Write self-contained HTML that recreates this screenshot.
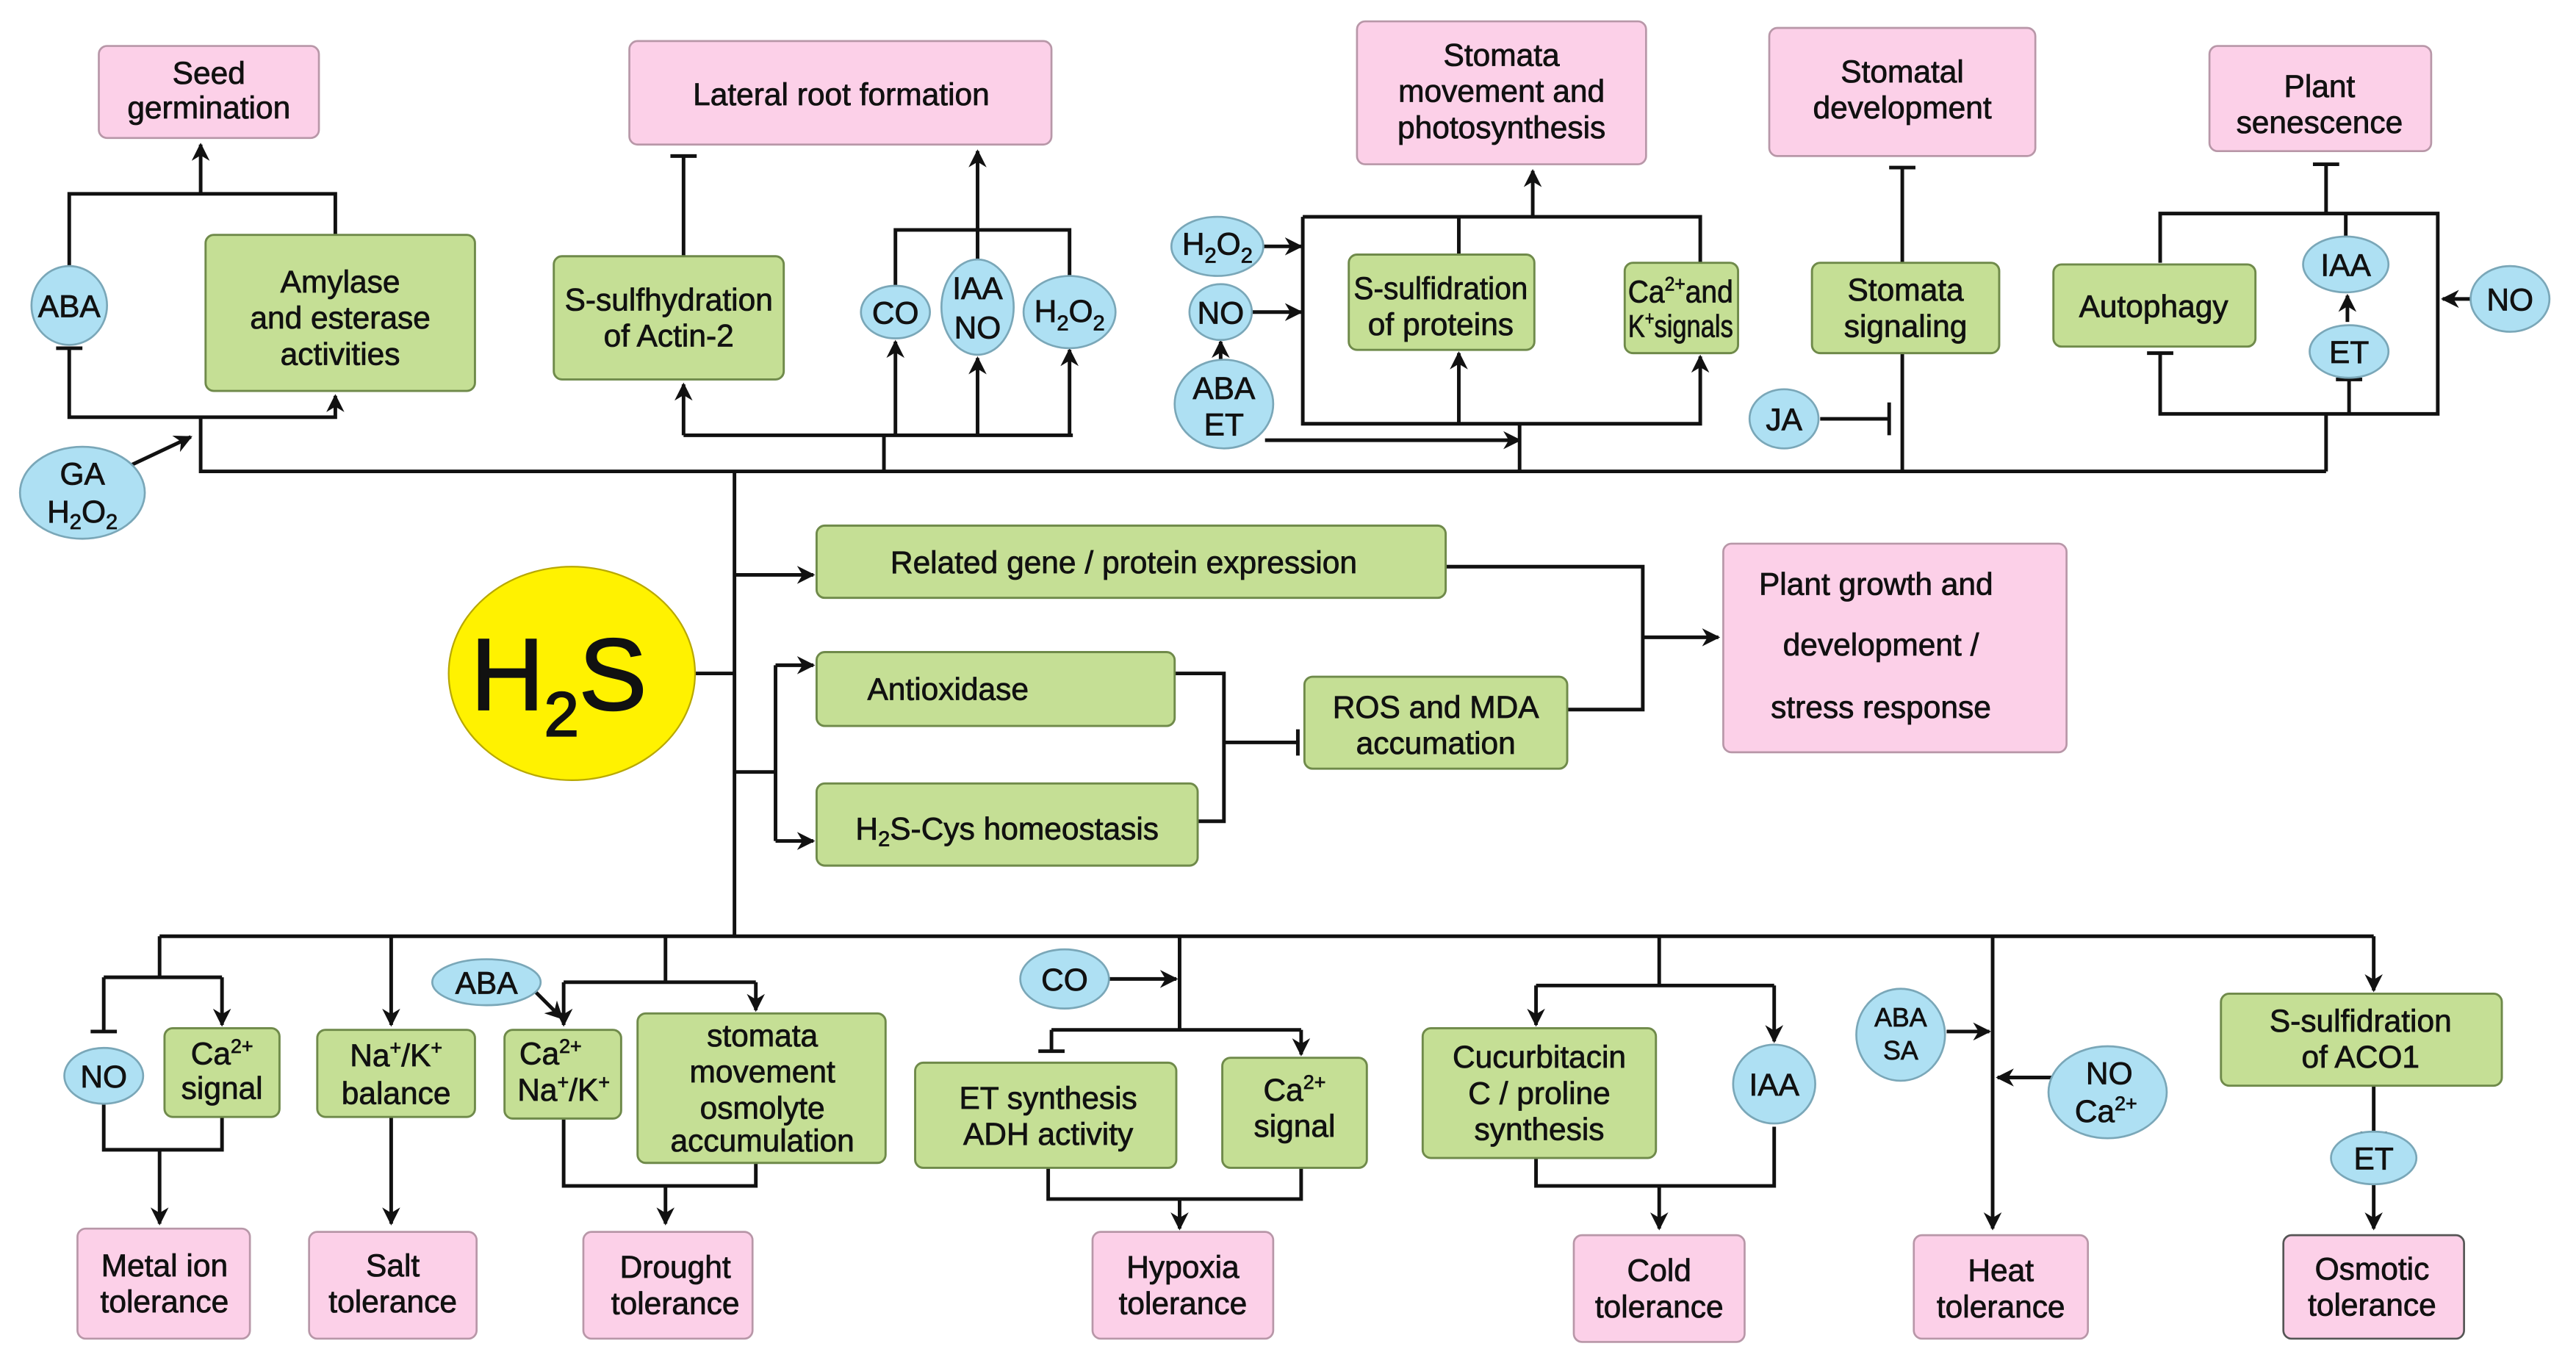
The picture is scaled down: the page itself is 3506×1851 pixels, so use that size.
<!DOCTYPE html>
<html><head><meta charset="utf-8"><style>
html,body{margin:0;padding:0;background:#fff;width:3506px;height:1851px;overflow:hidden}
svg{display:block}
text{font-family:"Liberation Sans",sans-serif;font-size:19px;fill:#111;text-anchor:middle;stroke:#111;stroke-width:0.35}
.p{fill:#fcd0e8;stroke:#b897a8;stroke-width:1.2}
.g{fill:#c5df95;stroke:#6f8a4a;stroke-width:1.3}
.b{fill:#aee0f3;stroke:#7aa7b8;stroke-width:1.2}
.l{fill:none;stroke:#111;stroke-width:2.2}
</style></head><body>
<svg width="3506" height="1851" viewBox="0 0 1568 828" xmlns="http://www.w3.org/2000/svg">
<defs><marker id="a" viewBox="0 0 10 10" refX="9" refY="5" markerWidth="5" markerHeight="5" orient="auto"><path d="M0,0L10,5L0,10L3,5z" fill="#111"/></marker></defs>
<g class="l">
<path d="M122,118V88" marker-end="url(#a)"/>
<path d="M42,163V118H204V143"/>
<path d="M42,212V254H204V241" marker-end="url(#a)"/>
<path d="M34,212H50"/>
<path d="M122,254V287H1416"/>
<path d="M80,283L116,266" marker-end="url(#a)"/>
<path d="M416,156V95M408,95H424"/>
<path d="M416,265V234" marker-end="url(#a)"/>
<path d="M416,265H653M538,265V287"/>
<path d="M545,265V208" marker-end="url(#a)"/>
<path d="M595,265V218" marker-end="url(#a)"/>
<path d="M651,265V213" marker-end="url(#a)"/>
<path d="M545,175V140H651V170"/>
<path d="M595,160V92" marker-end="url(#a)"/>
<path d="M793,132H1035V162M888,132V155M933,132V104" marker-end="url(#a)"/>
<path d="M793,132V258H1035V217" marker-end="url(#a)"/>
<path d="M888,258V215" marker-end="url(#a)"/>
<path d="M925,258V287"/>
<path d="M770,268H925" marker-end="url(#a)"/>
<path d="M767,150H792" marker-end="url(#a)"/>
<path d="M762,190H792" marker-end="url(#a)"/>
<path d="M743,222V208" marker-end="url(#a)"/>
<path d="M1158,160V102M1150,102H1166M1158,215V287"/>
<path d="M1108,255H1150M1150,245V265"/>
<path d="M1315,160V130H1484V252H1315V215M1307,215H1323"/>
<path d="M1416,130V100M1408,100H1424"/>
<path d="M1428,130V145"/>
<path d="M1430,252V231M1422,231H1438"/>
<path d="M1429,196V180" marker-end="url(#a)"/>
<path d="M1505,182H1487" marker-end="url(#a)"/>
<path d="M1416,252V287"/>
<path d="M423,410H447M447,287V570"/>
<path d="M447,350H495" marker-end="url(#a)"/>
<path d="M447,470H472M472,405V512"/>
<path d="M472,405H495" marker-end="url(#a)"/>
<path d="M472,512H495" marker-end="url(#a)"/>
<path d="M715,410H745V500H729M745,452H790M790,444V460"/>
<path d="M880,345H1000V432H954M1000,388H1046" marker-end="url(#a)"/>
<path d="M97,570H1445"/>
<path d="M97,570V595M63,595H135M63,595V628M55,628H71"/>
<path d="M135,595V624" marker-end="url(#a)"/>
<path d="M63,672V700H135V680"/>
<path d="M97,700V745" marker-end="url(#a)"/>
<path d="M238,570V624" marker-end="url(#a)"/>
<path d="M238,680V745" marker-end="url(#a)"/>
<path d="M405,570V598M343,598H460"/>
<path d="M343,598V624" marker-end="url(#a)"/>
<path d="M460,598V615" marker-end="url(#a)"/>
<path d="M320,598L342,620" marker-end="url(#a)"/>
<path d="M343,681V722H460V708"/>
<path d="M405,722V745" marker-end="url(#a)"/>
<path d="M718,570V627M640,627H792M640,627V640M632,640H648"/>
<path d="M792,627V642" marker-end="url(#a)"/>
<path d="M672,596H716" marker-end="url(#a)"/>
<path d="M638,711V730H792V711"/>
<path d="M718,730V748" marker-end="url(#a)"/>
<path d="M1010,570V600M935,600H1080"/>
<path d="M935,600V624" marker-end="url(#a)"/>
<path d="M1080,600V634" marker-end="url(#a)"/>
<path d="M935,705V722H1080V686M1010,722V748" marker-end="url(#a)"/>
<path d="M1213,570V748" marker-end="url(#a)"/>
<path d="M1185,628H1211" marker-end="url(#a)"/>
<path d="M1250,656H1216" marker-end="url(#a)"/>
<path d="M1445,570V603" marker-end="url(#a)"/>
<path d="M1445,661V690M1437,690H1453"/>
<path d="M1445,720V748" marker-end="url(#a)"/>
</g>
<rect class="p" x="60" y="28" width="134" height="56" rx="5"/><text x="127" y="51">Seed</text><text x="127" y="72">germination</text>
<rect class="g" x="125" y="143" width="164" height="95" rx="5"/><text x="207" y="178">Amylase</text><text x="207" y="200">and esterase</text><text x="207" y="222">activities</text>
<ellipse class="b" cx="42" cy="186" rx="23" ry="24"/><text x="42" y="193">ABA</text>
<ellipse class="b" cx="50" cy="300" rx="38" ry="28"/><text x="50" y="295">GA</text><text x="50" y="318">H<tspan font-size="13" dy="4">2</tspan><tspan dy="-4">O</tspan><tspan font-size="13" dy="4">2</tspan></text>
<rect class="p" x="383" y="25" width="257" height="63" rx="5"/><text x="512" y="64">Lateral root formation</text>
<rect class="g" x="337" y="156" width="140" height="75" rx="5"/><text x="407" y="189">S-sulfhydration</text><text x="407" y="211">of Actin-2</text>
<ellipse class="b" cx="545" cy="190" rx="21" ry="16"/><text x="545" y="197">CO</text>
<ellipse class="b" cx="595" cy="187" rx="22" ry="29"/><text x="595" y="182">IAA</text><text x="595" y="206">NO</text>
<ellipse class="b" cx="651" cy="190" rx="28" ry="22"/><text x="651" y="196">H<tspan font-size="13" dy="5">2</tspan><tspan dy="-5">O</tspan><tspan font-size="13" dy="5">2</tspan></text>
<rect class="p" x="826" y="13" width="176" height="87" rx="5"/><text x="914" y="40">Stomata</text><text x="914" y="62">movement and</text><text x="914" y="84">photosynthesis</text>
<ellipse class="b" cx="741" cy="150" rx="28" ry="18"/><text x="741" y="155">H<tspan font-size="13" dy="5">2</tspan><tspan dy="-5">O</tspan><tspan font-size="13" dy="5">2</tspan></text>
<ellipse class="b" cx="743" cy="190" rx="19" ry="17"/><text x="743" y="197">NO</text>
<ellipse class="b" cx="745" cy="246" rx="30" ry="27"/><text x="745" y="243">ABA</text><text x="745" y="265">ET</text>
<rect class="g" x="821" y="155" width="113" height="58" rx="5"/><text x="877" y="182" textLength="106" lengthAdjust="spacingAndGlyphs">S-sulfidration</text><text x="877" y="204">of proteins</text>
<rect class="g" x="989" y="160" width="69" height="55" rx="5"/><text x="1023" y="184" textLength="64" lengthAdjust="spacingAndGlyphs">Ca<tspan font-size="12" dy="-7">2+</tspan><tspan dy="7">and</tspan></text><text x="1023" y="205" textLength="64" lengthAdjust="spacingAndGlyphs">K<tspan font-size="12" dy="-7">+</tspan><tspan dy="7">signals</tspan></text>
<rect class="p" x="1077" y="17" width="162" height="78" rx="5"/><text x="1158" y="50">Stomatal</text><text x="1158" y="72">development</text>
<rect class="g" x="1103" y="160" width="114" height="55" rx="5"/><text x="1160" y="183">Stomata</text><text x="1160" y="205">signaling</text>
<ellipse class="b" cx="1086" cy="255" rx="21" ry="18"/><text x="1086" y="262">JA</text>
<rect class="p" x="1345" y="28" width="135" height="64" rx="5"/><text x="1412" y="59">Plant</text><text x="1412" y="81">senescence</text>
<rect class="g" x="1250" y="161" width="123" height="50" rx="5"/><text x="1311" y="193">Autophagy</text>
<ellipse class="b" cx="1428" cy="161" rx="26" ry="17"/><text x="1428" y="168">IAA</text>
<ellipse class="b" cx="1430" cy="214" rx="24" ry="16"/><text x="1430" y="221">ET</text>
<ellipse class="b" cx="1528" cy="182" rx="24" ry="20"/><text x="1528" y="189">NO</text>
<ellipse cx="348" cy="410" rx="75" ry="65" fill="#fff200" stroke="#b8a800" stroke-width="1"/>
<text x="340" y="432" style="font-size:62px;stroke-width:1">H<tspan font-size="38" dy="16">2</tspan><tspan dy="-16">S</tspan></text>
<rect class="g" x="497" y="320" width="383" height="44" rx="5"/><text x="684" y="349">Related gene / protein expression</text>
<rect class="g" x="497" y="397" width="218" height="45" rx="5"/><text x="577" y="426">Antioxidase</text>
<rect class="g" x="497" y="477" width="232" height="50" rx="5"/><text x="613" y="511">H<tspan font-size="13" dy="4">2</tspan><tspan dy="-4">S-Cys homeostasis</tspan></text>
<rect class="g" x="794" y="412" width="160" height="56" rx="5"/><text x="874" y="437">ROS and MDA</text><text x="874" y="459">accumation</text>
<rect class="p" x="1049" y="331" width="209" height="127" rx="5"/><text x="1142" y="362">Plant growth and</text><text x="1145" y="399">development /</text><text x="1145" y="437">stress response</text>
<ellipse class="b" cx="63" cy="655" rx="24" ry="17"/><text x="63" y="662">NO</text>
<rect class="g" x="100" y="626" width="70" height="54" rx="5"/><text x="135" y="648">Ca<tspan font-size="12" dy="-7">2+</tspan></text><text x="135" y="669">signal</text>
<rect class="p" x="47" y="748" width="105" height="67" rx="5"/><text x="100" y="777">Metal ion</text><text x="100" y="799">tolerance</text>
<rect class="g" x="193" y="627" width="96" height="53" rx="5"/><text x="241" y="649">Na<tspan font-size="12" dy="-7">+</tspan><tspan dy="7">/K</tspan><tspan font-size="12" dy="-7">+</tspan></text><text x="241" y="672">balance</text>
<rect class="p" x="188" y="750" width="102" height="65" rx="5"/><text x="239" y="777">Salt</text><text x="239" y="799">tolerance</text>
<ellipse class="b" cx="296" cy="598" rx="33" ry="14"/><text x="296" y="605">ABA</text>
<rect class="g" x="307" y="627" width="71" height="54" rx="5"/><text x="335" y="648">Ca<tspan font-size="12" dy="-7">2+</tspan></text><text x="343" y="670">Na<tspan font-size="12" dy="-7">+</tspan><tspan dy="7">/K</tspan><tspan font-size="12" dy="-7">+</tspan></text>
<rect class="g" x="388" y="617" width="151" height="91" rx="5"/><text x="464" y="637">stomata</text><text x="464" y="659">movement</text><text x="464" y="681">osmolyte</text><text x="464" y="701">accumulation</text>
<rect class="p" x="355" y="750" width="103" height="65" rx="5"/><text x="411" y="778">Drought</text><text x="411" y="800">tolerance</text>
<ellipse class="b" cx="648" cy="596" rx="27" ry="18"/><text x="648" y="603">CO</text>
<rect class="g" x="557" y="647" width="159" height="64" rx="5"/><text x="638" y="675">ET synthesis</text><text x="638" y="697">ADH activity</text>
<rect class="g" x="744" y="644" width="88" height="67" rx="5"/><text x="788" y="670">Ca<tspan font-size="12" dy="-7">2+</tspan></text><text x="788" y="692">signal</text>
<rect class="p" x="665" y="750" width="110" height="65" rx="5"/><text x="720" y="778">Hypoxia</text><text x="720" y="800">tolerance</text>
<rect class="g" x="866" y="626" width="142" height="79" rx="5"/><text x="937" y="650">Cucurbitacin</text><text x="937" y="672">C / proline</text><text x="937" y="694">synthesis</text>
<ellipse class="b" cx="1080" cy="660" rx="25" ry="24"/><text x="1080" y="667">IAA</text>
<rect class="p" x="958" y="752" width="104" height="65" rx="5"/><text x="1010" y="780">Cold</text><text x="1010" y="802">tolerance</text>
<ellipse class="b" cx="1157" cy="630" rx="27" ry="28"/><text x="1157" y="625" style="font-size:16px">ABA</text><text x="1157" y="645" style="font-size:16px">SA</text>
<ellipse class="b" cx="1283" cy="665" rx="36" ry="28"/><text x="1284" y="660">NO</text><text x="1282" y="683">Ca<tspan font-size="12" dy="-7">2+</tspan></text>
<rect class="p" x="1165" y="752" width="106" height="63" rx="5"/><text x="1218" y="780">Heat</text><text x="1218" y="802">tolerance</text>
<rect class="g" x="1352" y="605" width="171" height="56" rx="5"/><text x="1437" y="628">S-sulfidration</text><text x="1437" y="650">of ACO1</text>
<ellipse class="b" cx="1445" cy="705" rx="26" ry="16"/><text x="1445" y="712">ET</text>
<rect class="p" x="1390" y="752" width="110" height="63" rx="5" style="stroke:#555"/><text x="1444" y="779">Osmotic</text><text x="1444" y="801">tolerance</text>
</svg>
</body></html>
